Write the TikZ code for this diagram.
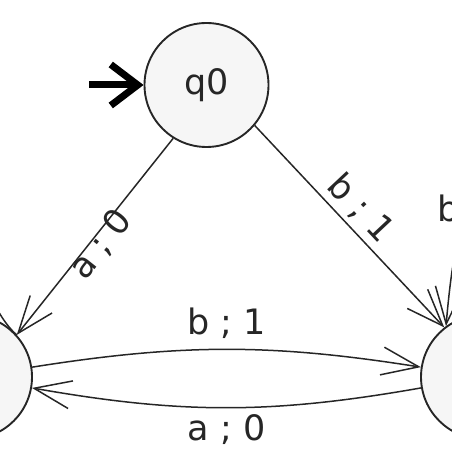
\documentclass[tikz,border=0pt]{standalone}
\usepackage{fontspec}
\setmainfont{DejaVu Sans}
\usetikzlibrary{arrows.meta}
\definecolor{stateline}{HTML}{262626}
\definecolor{statefill}{HTML}{F6F6F6}
\begin{document}
\begin{tikzpicture}[x=1pt,y=1pt,
  state/.style={circle,draw=stateline,fill=statefill,line width=1.9pt,
    minimum size=124pt,inner sep=0pt,text=stateline,font=\fontsize{35}{42}\selectfont},
  trans/.style={draw=stateline,line width=1.5pt,-{Straight Barb[length=37pt,width=28pt]}},
  lbl/.style={font=\fontsize{35}{42}\selectfont,text=stateline,inner sep=2pt}]
  \useasboundingbox (0,0) rectangle (452,452);
  \clip (0,0) rectangle (452,452);
  % the three states, two of them cut by the frame
  \node[state] (q0) at (206.5,367) {q0};
  \node[state] (q1) at (-30,75) {};
  \node[state] (q2) at (483,75) {};
  % start marker
  \coordinate (start) at (89,367);
  \draw[line width=7pt,-{Straight Barb[length=27pt,width=41pt]}] (start) -- (q0.west);
  % leaving q0
  \draw[trans] (q0.238) -- node[lbl,sloped,below=-8pt,pos=0.51] {a ; 0} (q1.42);
  \draw[trans] (q0.320) -- node[lbl,sloped,above=3pt,pos=0.48] {b ; 1} (q2.128);
  % between q1 and q2
  \draw[trans] (q1) to[bend left=9] node[lbl,above=8pt] {b ; 1} (q2);
  \draw[trans] (q2) to[bend left=10] node[lbl,below=4pt] {a ; 0} (q1);
  % self loops, mostly outside the frame
  \draw[trans] (q1.42) .. controls +(140:60) and +(85:200) .. node[lbl,above=13pt] {a ; 1} (q1.126);
  \draw[trans] (q2.42) .. controls +(140:60) and +(85:200) .. node[lbl,above=13pt] {b ; 0} (q2.126);
\end{tikzpicture}
\end{document}
